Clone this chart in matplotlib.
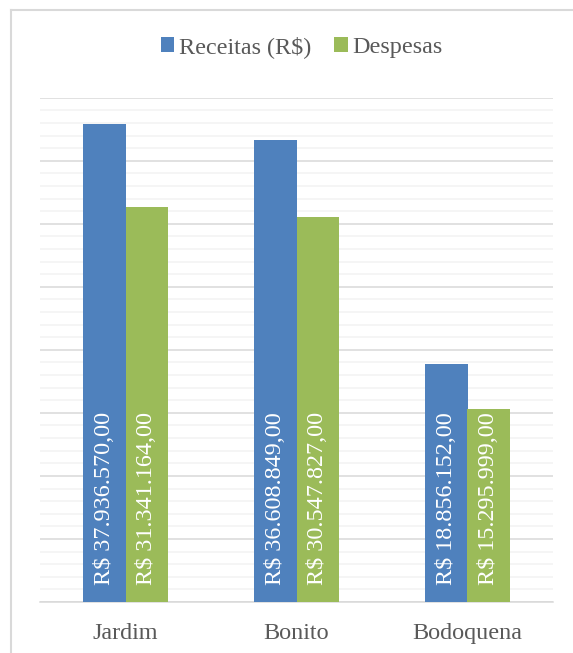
import matplotlib
matplotlib.use("Agg")
import matplotlib.pyplot as plt
import numpy as np
from matplotlib.lines import Line2D
from matplotlib.ticker import MultipleLocator

# data
cidades = ["Jardim", "Bonito", "Bodoquena"]
receitas = [37936570.00, 36608849.00, 18856152.00]
despesas = [31341164.00, 30547827.00, 15295999.00]
series_names = ["Receitas (R$)", "Despesas"]

BLUE = "#4F81BD"
GREEN = "#9BBB59"
TXT = "#595959"


def brl(v):
    s = f"{v:,.2f}".replace(",", "X").replace(".", ",").replace("X", ".")
    return "R$ " + s


plt.rcParams["font.family"] = ["Liberation Serif", "DejaVu Serif"]

W, H = 573, 653
fig = plt.figure(figsize=(W / 100, H / 100), dpi=100)
ax = fig.add_axes([40 / W, 51 / H, 513 / W, 504.3 / H])

x = np.arange(len(cidades))
w = 0.249
b1 = ax.bar(x - w / 2, receitas, w, color=BLUE, zorder=3, label=series_names[0])
b2 = ax.bar(x + w / 2, despesas, w, color=GREEN, zorder=3, label=series_names[1])

# value labels inside the bars, rotated, starting near the base
for bars, vals in ((b1, receitas), (b2, despesas)):
    for r, v in zip(bars, vals):
        ax.annotate(brl(v), (r.get_x() + r.get_width() / 2, 0),
                    xytext=(0, 12.5), textcoords="offset points",
                    rotation=90, ha="center", va="bottom",
                    color="white", fontsize=17.4, zorder=4)

ax.set_xlim(-0.5, 2.5)
ax.set_ylim(0, 40e6)
ax.yaxis.set_major_locator(MultipleLocator(5e6))
ax.yaxis.set_minor_locator(MultipleLocator(1e6))
ax.grid(axis="y", which="major", color="#D9D9D9", linewidth=1.1, zorder=0)
ax.grid(axis="y", which="minor", color="#F2F2F2", linewidth=1.1, zorder=0)
ax.tick_params(axis="y", which="both", left=False, labelleft=False)
ax.set_xticks(x)
ax.set_xticklabels(cidades, fontsize=17.4, color=TXT)
ax.tick_params(axis="x", length=0, pad=15)
for s in ("top", "right", "left"):
    ax.spines[s].set_visible(False)
ax.spines["bottom"].set_color("#D9D9D9")
ax.spines["bottom"].set_linewidth(1.1)

leg = fig.legend(loc="center", bbox_to_anchor=(0.527, 1 - 47 / H),
                 ncol=2, frameon=False, fontsize=17.4,
                 handlelength=0.55, handleheight=0.55, handletextpad=0.2,
                 columnspacing=0.95)
for t in leg.get_texts():
    t.set_color(TXT)

# chart border (left and top edges visible)
fig.add_artist(Line2D([11 / W, 11 / W], [0, 1 - 10 / H], color="#D9D9D9", lw=1.5))
fig.add_artist(Line2D([11 / W, 1], [1 - 10 / H, 1 - 10 / H], color="#D9D9D9", lw=1.5))

fig.savefig("out.png", dpi=100)
